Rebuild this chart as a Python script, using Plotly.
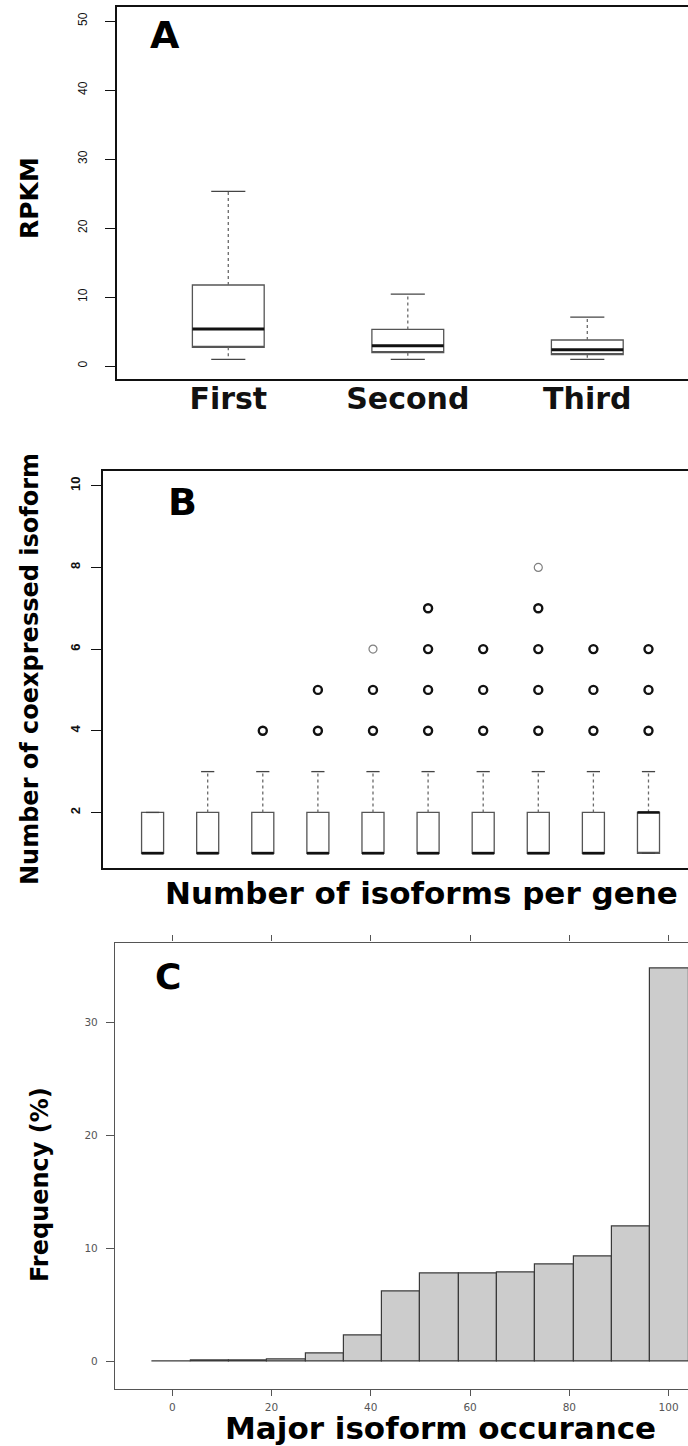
import plotly.graph_objects as go

W, H = 688, 1446

# ---- Panel A: expression of first/second/third isoform ----
a_labels = ["First", "Second", "Third"]
a_pos = [1, 2, 3]
a_low = [0.97, 0.97, 0.97]
a_q1 = [2.71, 1.93, 1.64]
a_med = [5.36, 2.95, 2.37]
a_q3 = [11.74, 5.31, 3.77]
a_high = [25.3, 10.43, 7.10]
a_yticks = [0, 10, 20, 30, 40, 50]

# ---- Panel B: coexpressed isoforms by isoforms per gene ----
b_pos = [1, 2, 3, 4, 5, 6, 7, 8, 9, 10]
b_low = [1, 1, 1, 1, 1, 1, 1, 1, 1, 1]
b_q1 = [1, 1, 1, 1, 1, 1, 1, 1, 1, 1]
b_med = [1, 1, 1, 1, 1, 1, 1, 1, 1, 2]
b_q3 = [2, 2, 2, 2, 2, 2, 2, 2, 2, 2]
b_high = [2, 3, 3, 3, 3, 3, 3, 3, 3, 3]
b_out_group = [3, 4, 4, 5, 5, 5, 6, 6, 6, 6, 7, 7, 7, 8, 8, 8, 8, 8, 9, 9, 9, 10, 10, 10]
b_out_value = [4, 4, 5, 4, 5, 6, 4, 5, 6, 7, 4, 5, 6, 4, 5, 6, 7, 8, 4, 5, 6, 4, 5, 6]
b_out_single = [False, False, False, False, False, True, False, False, False, False,
                False, False, False, False, False, False, False, True,
                False, False, False, False, False, False]
b_yticks = [2, 4, 6, 8, 10]

# ---- Panel C: histogram of major isoform occurrence ----
c_edges = [-4.0, 3.71, 11.43, 19.14, 26.86, 34.57, 42.29, 50.0,
           57.71, 65.43, 73.14, 80.86, 88.57, 96.29, 104.0]
c_freq = [0.01, 0.03, 0.03, 0.12, 0.68, 2.31, 6.17, 7.77,
          7.80, 7.87, 8.61, 9.25, 11.91, 34.82]
c_xticks = [0, 20, 40, 60, 80, 100]
c_yticks = [0, 10, 20, 30]

BOLD = "DejaVu Sans"
TICK = "Liberation Sans, Arial, sans-serif"


def px(x):
    return x / W


def py(y):
    return 1 - y / H


def segments(xs0, xs1, ys0, ys1):
    xx, yy = [], []
    for a, b, c, d in zip(xs0, xs1, ys0, ys1):
        xx += [a, b, None]
        yy += [c, d, None]
    return xx, yy


fig = go.Figure()


def add_boxes(xref, yref, pos, low, q1, med, q3, high, width, cap, box_col, med_w):
    fig.add_trace(go.Box(
        x=pos, q1=q1, median=q1, q3=q3, lowerfence=q1, upperfence=q3,
        width=width, whiskerwidth=0, boxpoints=False,
        fillcolor="rgba(255,255,255,0)", line=dict(color=box_col, width=1.3),
        xaxis=xref, yaxis=yref, showlegend=False, hoverinfo="skip"))
    # whiskers (dotted)
    wx, wy = segments(pos + pos, pos + pos, q3 + q1, high + low)
    fig.add_trace(go.Scatter(x=wx, y=wy, mode="lines",
                             line=dict(color="#6a6a6a", width=1.3, dash="dot"),
                             xaxis=xref, yaxis=yref, showlegend=False, hoverinfo="skip"))
    # staples
    lo_x = [p - cap for p in pos]
    hi_x = [p + cap for p in pos]
    sx, sy = segments(lo_x + lo_x, hi_x + hi_x, high + low, high + low)
    fig.add_trace(go.Scatter(x=sx, y=sy, mode="lines",
                             line=dict(color="#444444", width=1.3),
                             xaxis=xref, yaxis=yref, showlegend=False, hoverinfo="skip"))
    # medians (thick)
    bl = [p - width / 2 for p in pos]
    br = [p + width / 2 for p in pos]
    mx, my = segments(bl, br, med, med)
    fig.add_trace(go.Scatter(x=mx, y=my, mode="lines",
                             line=dict(color="#111111", width=med_w),
                             xaxis=xref, yaxis=yref, showlegend=False, hoverinfo="skip"))


# Panel A boxes
add_boxes("x", "y", a_pos, a_low, a_q1, a_med, a_q3, a_high, 0.4, 0.095, "#555555", 3)

# Panel B boxes
add_boxes("x2", "y2", b_pos, b_low, b_q1, b_med, b_q3, b_high, 0.4, 0.12, "#555555", 2.6)

# Panel B outliers: dark rings where many points overlap, pale ring for a single point
heavy_x = [g for g, s in zip(b_out_group, b_out_single) if not s]
heavy_y = [v for v, s in zip(b_out_value, b_out_single) if not s]
light_x = [g for g, s in zip(b_out_group, b_out_single) if s]
light_y = [v for v, s in zip(b_out_value, b_out_single) if s]
fig.add_trace(go.Scatter(x=heavy_x, y=heavy_y, mode="markers",
                         marker=dict(symbol="circle-open", size=8, color="#111111",
                                     line=dict(width=2.4)),
                         xaxis="x2", yaxis="y2", showlegend=False, hoverinfo="skip"))
fig.add_trace(go.Scatter(x=light_x, y=light_y, mode="markers",
                         marker=dict(symbol="circle-open", size=8, color="#808080",
                                     line=dict(width=1.2)),
                         xaxis="x2", yaxis="y2", showlegend=False, hoverinfo="skip"))

# Panel C histogram
c_mid = [(a + b) / 2 for a, b in zip(c_edges[:-1], c_edges[1:])]
c_wid = [b - a for a, b in zip(c_edges[:-1], c_edges[1:])]
fig.add_trace(go.Bar(x=c_mid, y=c_freq, width=c_wid,
                     marker=dict(color="#cccccc", line=dict(color="#3a3a3a", width=1.2)),
                     xaxis="x3", yaxis="y3", showlegend=False, hoverinfo="skip"))

axis_common = dict(showgrid=False, zeroline=False, automargin=False)

fig.update_layout(
    width=W, height=H,
    margin=dict(l=0, r=0, t=0, b=0),
    paper_bgcolor="white", plot_bgcolor="white",
    template="none",
    bargap=0,
    # Panel A
    xaxis=dict(domain=[px(117), 1], range=[0.38, 3.561], anchor="y",
               showline=True, mirror=True, linecolor="#111111", linewidth=1.6,
               tickvals=a_pos, ticktext=a_labels, ticks="",
               tickfont=dict(family=BOLD, size=30, color="#111111", weight="bold"),
               ticklabelstandoff=-8, **axis_common),
    yaxis=dict(domain=[py(379), py(7)], range=[-1.88, 52.03], anchor="x",
               showline=True, linecolor="#111111", linewidth=1.6,
               ticks="outside", ticklen=10, tickcolor="#111111", tickwidth=1.2,
               tickvals=a_yticks, tickangle=-90,
               tickfont=dict(family=TICK, size=12, color="#111111"),
               ticklabelstandoff=13, **axis_common),
    # Panel B
    xaxis2=dict(domain=[px(103), 1], range=[0.1, 10.717], anchor="y2",
                showline=True, mirror=True, linecolor="#111111", linewidth=1.6,
                showticklabels=False, ticks="", **axis_common),
    yaxis2=dict(domain=[py(868), py(471)], range=[0.64, 10.36], anchor="x2",
                showline=True, linecolor="#111111", linewidth=1.6,
                ticks="outside", ticklen=10, tickcolor="#111111", tickwidth=1.2,
                tickvals=b_yticks, tickangle=-90,
                tickfont=dict(family=TICK, size=13, color="#111111", weight="bold"),
                ticklabelstandoff=6, **axis_common),
    # Panel C
    xaxis3=dict(domain=[px(115), 1], range=[-11.53, 103.9], anchor="y3",
                showline=True, mirror="ticks", linecolor="#555555", linewidth=1.2,
                ticks="outside", ticklen=6, tickcolor="#555555", tickwidth=1,
                tickvals=c_xticks,
                tickfont=dict(family="DejaVu Sans", size=10.5, color="#555555"),
                ticklabelstandoff=2, **axis_common),
    yaxis3=dict(domain=[py(1389), py(942.5)], range=[-2.46, 37.1], anchor="x3",
                showline=True, linecolor="#555555", linewidth=1.2,
                ticks="outside", ticklen=8, tickcolor="#555555", tickwidth=1,
                tickvals=c_yticks,
                tickfont=dict(family="DejaVu Sans", size=10.5, color="#555555"),
                ticklabelstandoff=6, **axis_common),
)


def label(text, x, y, size, angle=0, xanchor="center"):
    fig.add_annotation(text=text, x=px(x), y=py(y), xref="paper", yref="paper",
                       xanchor=xanchor, yanchor="middle", textangle=angle,
                       showarrow=False,
                       font=dict(family=BOLD, size=size, color="#000000", weight="bold"))


label("A", 165, 35, 38)
label("RPKM", 30, 198, 25, angle=-90)
label("B", 182, 502, 38)
label("Number of coexpressed isoform", 30, 669, 24, angle=-90)
label("Number of isoforms per gene", 163, 893, 31, xanchor="left")
label("C", 168, 976, 36)
label("Frequency (%)", 40, 1185, 24, angle=-90)
label("Major isoform occurance", 440, 1428, 31)

fig.write_html("out.html")
